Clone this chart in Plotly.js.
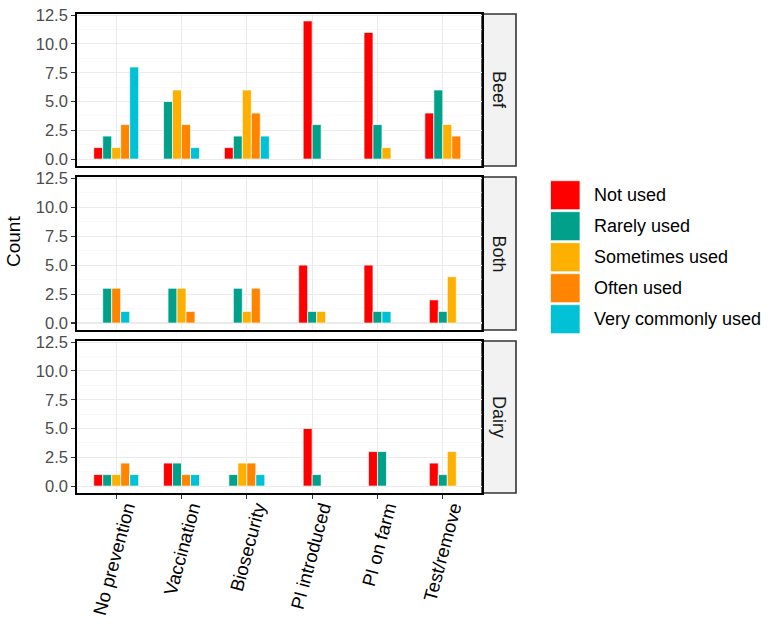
<!DOCTYPE html>
<html>
<head>
<meta charset="utf-8">
<script src="https://cdn.plot.ly/plotly-3.0.1.min.js"></script>
<style>html,body{margin:0;padding:0;background:#fff;}</style>
</head>
<body>
<div id="chart" style="width:767px;height:627px;"></div>
<script>
const categories = ["No prevention","Vaccination","Biosecurity","PI introduced","PI on farm","Test/remove"];
const levels = ["Not used","Rarely used","Sometimes used","Often used","Very commonly used"];
const levelColors = ["#FF0000","#00A08A","#FDB000","#FF8500","#00C1D6"];
const facets = ["Beef","Both","Dairy"];
const yTicks = [0, 2.5, 5, 7.5, 10, 12.5];

// Beef
const beefNotUsed   = [1, 0, 1, 12, 11, 4];
const beefRarely    = [2, 5, 2, 3, 3, 6];
const beefSometimes = [1, 6, 6, 0, 1, 3];
const beefOften     = [3, 3, 4, 0, 0, 2];
const beefVery      = [8, 1, 2, 0, 0, 0];
// Both
const bothNotUsed   = [0, 0, 0, 5, 5, 2];
const bothRarely    = [3, 3, 3, 1, 1, 1];
const bothSometimes = [0, 3, 1, 1, 0, 4];
const bothOften     = [3, 1, 3, 0, 0, 0];
const bothVery      = [1, 0, 0, 0, 1, 0];
// Dairy
const dairyNotUsed   = [1, 2, 0, 5, 3, 2];
const dairyRarely    = [1, 2, 1, 1, 3, 1];
const dairySometimes = [1, 0, 2, 0, 0, 3];
const dairyOften     = [2, 1, 2, 0, 0, 0];
const dairyVery      = [1, 1, 1, 0, 0, 0];

const facetData = [
  [beefNotUsed, beefRarely, beefSometimes, beefOften, beefVery],
  [bothNotUsed, bothRarely, bothSometimes, bothOften, bothVery],
  [dairyNotUsed, dairyRarely, dairySometimes, dairyOften, dairyVery]
];

// pixel layout helpers
const W = 767, H = 627;
const L = 77, R = 482, T = 14, B = 493;
const pw = R - L, ph = B - T;
const pxX = p => (p - L) / pw;
const pxY = p => (B - p) / ph;
const panelPx = [[14,166],[177,330],[341,493]];

const barPitch = 0.1376; // dodge width per bar (ggplot dodge2, preserve single)

const traces = [];
facets.forEach((f, fi) => {
  const series = facetData[fi];
  const axSuffix = fi === 0 ? '' : String(fi + 1);
  levels.forEach((lv, li) => {
    const xs = [], ys = [];
    categories.forEach((c, ci) => {
      const present = [];
      series.forEach((s, si) => { if (s[ci] > 0) present.push(si); });
      const k = present.indexOf(li);
      if (k >= 0) {
        const n = present.length;
        xs.push(ci + (k - (n - 1) / 2) * barPitch);
        ys.push(series[li][ci]);
      }
    });
    traces.push({
      type: 'bar', x: xs, y: ys, width: barPitch,
      name: lv, showlegend: false,
      marker: {color: levelColors[li], line: {color: '#FFFFFF', width: 0.7}},
      xaxis: 'x' + axSuffix, yaxis: 'y' + axSuffix,
      hoverinfo: 'x+y+name'
    });
  });
});

const font = "Liberation Sans, Arial, Helvetica, sans-serif";
const layout = {
  width: W, height: H, autosize: false,
  margin: {l: L, r: W - R, t: T, b: H - B, pad: 0},
  paper_bgcolor: '#FFFFFF', plot_bgcolor: '#FFFFFF',
  barmode: 'overlay',
  showlegend: false,
  font: {family: font, color: '#000'},
  shapes: [], annotations: []
};

facets.forEach((f, fi) => {
  const s = fi === 0 ? '' : String(fi + 1);
  const [top, bot] = panelPx[fi];
  const isBottom = fi === facets.length - 1;
  layout['xaxis' + s] = {
    domain: [0, 1], anchor: 'y' + s,
    range: [-0.6, categories.length - 0.4],
    tickmode: 'array', tickvals: categories.map((c, i) => i), ticktext: categories,
    showticklabels: isBottom, ticks: isBottom ? 'outside' : '',
    ticklen: 4, tickwidth: 1.1, tickcolor: '#333333',
    tickangle: -75,
    ticklabelshift: 10, ticklabelstandoff: -9,
    tickfont: {family: font, size: 18.5, color: '#000000'},
    showgrid: true, gridcolor: '#EBEBEB', gridwidth: 1.1,
    zeroline: false,
    showline: true, mirror: true, linecolor: '#000000', linewidth: 1.8,
    matches: fi === 0 ? undefined : 'x'
  };
  layout['yaxis' + s] = {
    domain: [pxY(bot), pxY(top)], anchor: 'x' + s,
    range: [-0.6, 12.6],
    tickmode: 'array', tickvals: yTicks, ticktext: yTicks.map(v => v.toFixed(1)),
    ticks: 'outside', ticklen: 4, tickwidth: 1.1, tickcolor: '#333333',
    tickfont: {family: font, size: 16.5, color: '#4D4D4D'},
    showgrid: true, gridcolor: '#EBEBEB', gridwidth: 1.1,
    minor: {tickmode: 'array', tickvals: [1.25, 3.75, 6.25, 8.75, 11.25], showgrid: true, gridcolor: '#F3F3F3', gridwidth: 0.6, ticks: ''},
    zeroline: false,
    showline: true, mirror: true, linecolor: '#000000', linewidth: 1.8
  };
  // facet strip
  layout.shapes.push({
    type: 'rect', xref: 'paper', yref: 'paper',
    x0: pxX(R), x1: pxX(516), y0: pxY(bot), y1: pxY(top),
    fillcolor: '#F2F2F2', line: {color: '#333333', width: 1.6}, layer: 'below'
  });
  layout.annotations.push({
    xref: 'paper', yref: 'paper', x: pxX(499), y: pxY((top + bot) / 2),
    text: f, textangle: 90, showarrow: false,
    xanchor: 'center', yanchor: 'middle',
    font: {family: font, size: 18, color: '#1A1A1A'}
  });
});

// y axis title
layout.annotations.push({
  xref: 'paper', yref: 'paper', x: pxX(14), y: pxY(242),
  text: 'Count', textangle: -90, showarrow: false,
  xanchor: 'center', yanchor: 'middle',
  font: {family: font, size: 19, color: '#000000'}
});

// legend (keys + labels)
levels.forEach((lv, li) => {
  const top = 180.7 + li * 31, bot = top + 29;
  layout.shapes.push({
    type: 'rect', xref: 'paper', yref: 'paper',
    x0: pxX(550.5), x1: pxX(580), y0: pxY(bot), y1: pxY(top),
    fillcolor: levelColors[li], line: {color: '#FFFFFF', width: 0.7}
  });
  layout.annotations.push({
    xref: 'paper', yref: 'paper', x: pxX(592), y: pxY((top + bot) / 2),
    text: lv, showarrow: false, xanchor: 'left', yanchor: 'middle',
    font: {family: font, size: 18, color: '#000000'}
  });
});

Plotly.newPlot('chart', traces, layout, {staticPlot: true, displayModeBar: false});
</script>
</body>
</html>
